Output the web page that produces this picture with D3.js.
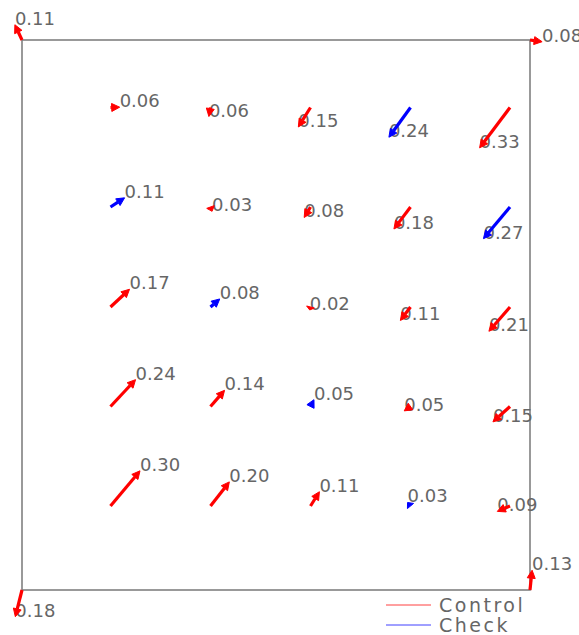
<!DOCTYPE html>
<html>
<head>
<meta charset="utf-8">
<script src="https://cdn.jsdelivr.net/npm/d3@7"></script>
<style>
  html, body { margin: 0; padding: 0; background: #fff; }
  svg { display: block; }
</style>
</head>
<body>
<svg id="chart" width="579" height="635"></svg>
<script>
// ---- data ----
const colPos = [88.5, 188.5, 288.5, 388.5, 488];
const rowPos = [482.5, 383, 283, 183.5, 84];          // top row first
const values = [
  [0.06, 0.06, 0.15, 0.24, 0.33],
  [0.11, 0.03, 0.08, 0.18, 0.27],
  [0.17, 0.08, 0.02, 0.11, 0.21],
  [0.24, 0.14, 0.05, 0.05, 0.15],
  [0.30, 0.20, 0.11, 0.03, 0.09]
];
const angles = [
  [2, -100, -122, -126, -127],
  [33, -70, -121, -127, -130],
  [43, 41, -105, -127, -131],
  [47, 49, 63, -145, -138],
  [50, 52, 58, 130, -157]
];
const groups = [
  ["Control", "Control", "Control", "Check", "Control"],
  ["Check", "Control", "Control", "Control", "Check"],
  ["Control", "Check", "Control", "Control", "Control"],
  ["Control", "Control", "Check", "Control", "Control"],
  ["Control", "Control", "Control", "Check", "Control"]
];
const cornerX = [0, 508, 0, 508];
const cornerY = [550, 550, 0, 0];
const cornerValues = [0.11, 0.08, 0.18, 0.13];
const cornerAngles = [115, -8, -104, 84];
const cornerGroups = ["Control", "Control", "Control", "Control"];
const seriesNames = ["Control", "Check"];
const seriesColors = ["#ff0000", "#0000ff"];

// ---- build records ----
const records = [];
values.forEach((row, i) => row.forEach((v, j) => {
  records.push({x: colPos[j], y: rowPos[i], v, a: angles[i][j], g: groups[i][j]});
}));
cornerValues.forEach((v, k) => {
  records.push({x: cornerX[k], y: cornerY[k], v, a: cornerAngles[k], g: cornerGroups[k]});
});

const svg = d3.select("#chart");
const x = d3.scaleLinear().domain([0, 508]).range([22, 530]);
const y = d3.scaleLinear().domain([0, 550]).range([590, 40]);
const len = d3.scaleLinear().domain([0, 0.33]).range([0, 50.5]);
const color = d3.scaleOrdinal().domain(seriesNames).range(seriesColors);

// frame
svg.append("rect")
  .attr("x", x(0)).attr("y", y(550))
  .attr("width", x(508) - x(0)).attr("height", y(0) - y(550))
  .attr("fill", "none").attr("stroke", "#808080").attr("stroke-width", 1.6);

records.forEach(d => {
  const t = d.a * Math.PI / 180;
  const ux = Math.cos(t), uy = -Math.sin(t);
  const L = len(d.v);
  d.x0 = x(d.x); d.y0 = y(d.y);
  d.x1 = d.x0 + L * ux; d.y1 = d.y0 + L * uy;
  const hl = Math.min(8, L);
  const hw = 4;
  const bx = d.x1 - hl * ux, by = d.y1 - hl * uy;
  d.bx = bx; d.by = by;
  d.head = [[d.x1, d.y1], [bx - hw * uy, by + hw * ux], [bx + hw * uy, by - hw * ux]];
});

// labels (under arrows)
svg.append("g").selectAll("text").data(records).join("text")
  .attr("x", d => d.x1).attr("y", d => d.y1)
  .attr("font-family", "DejaVu Sans, sans-serif")
  .attr("font-size", 18)
  .attr("fill", "#666")
  .text(d => d.v.toFixed(2));

// arrows
const ag = svg.append("g").selectAll("g").data(records).join("g");
ag.append("line")
  .attr("x1", d => d.x0).attr("y1", d => d.y0)
  .attr("x2", d => d.bx).attr("y2", d => d.by)
  .attr("stroke", d => color(d.g)).attr("stroke-width", 3.2);
ag.append("path")
  .attr("d", d => d3.line()(d.head) + "Z")
  .attr("fill", d => color(d.g)).attr("stroke", d => color(d.g)).attr("stroke-width", 1);

// legend
const lg = svg.append("g");
seriesNames.forEach((s, i) => {
  const yy = 605 + i * 20;
  lg.append("line").attr("x1", 386).attr("x2", 431).attr("y1", yy).attr("y2", yy)
    .attr("stroke", color(s)).attr("stroke-width", 1).attr("stroke-opacity", 0.75);
  lg.append("text").attr("x", 439).attr("y", yy + 6.5)
    .attr("font-family", "DejaVu Sans, sans-serif").attr("font-size", 19)
    .attr("letter-spacing", 2.5).attr("fill", "#666").text(s);
});
</script>
</body>
</html>
